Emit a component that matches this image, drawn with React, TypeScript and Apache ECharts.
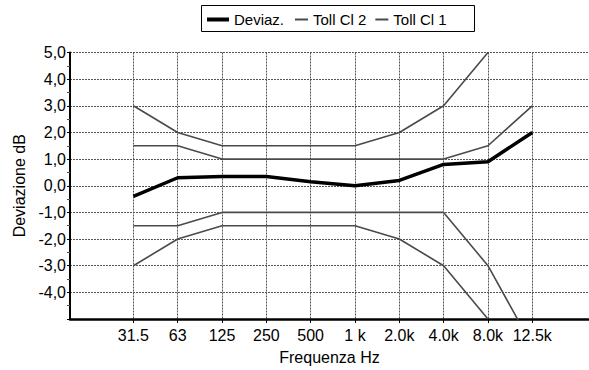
import React, { useEffect, useRef } from "react";
import * as echarts from "echarts";

const frequencies = ["31.5", "63", "125", "250", "500", "1 k", "2.0k", "4.0k", "8.0k", "12.5k"];
const deviazione = [-0.4, 0.3, 0.35, 0.35, 0.15, 0.0, 0.2, 0.8, 0.9, 2.0];
const tollCl2Upper = [3.0, 2.0, 1.5, 1.5, 1.5, 1.5, 2.0, 3.0, 5.0, null];
const tollCl2Lower = [-3.0, -2.0, -1.5, -1.5, -1.5, -1.5, -2.0, -3.0, -5.0, null];
const tollCl1Upper = [1.5, 1.5, 1.0, 1.0, 1.0, 1.0, 1.0, 1.0, 1.5, 3.0];
const tollCl1Lower = [-1.5, -1.5, -1.0, -1.0, -1.0, -1.0, -1.0, -1.0, -3.0, -6.0];
const yTicks = [5, 4, 3, 2, 1, 0, -1, -2, -3, -4];

const FONT = "Liberation Sans";

function toPairs(vals: (number | null)[]) {
  return vals.map((v, i) => [i, v]);
}

export default function App() {
  const ref = useRef<HTMLDivElement>(null);
  useEffect(() => {
    if (!ref.current) return;
    const chart = echarts.init(ref.current, null, { renderer: "svg" });
    const idx = frequencies.map((_, i) => i);
    const tolStyle = { color: "#4a4a4a", width: 1.6 };
    const legendText = { fontFamily: FONT, fontSize: 15, color: "#000" };
    chart.setOption({
      animation: false,
      backgroundColor: "#ffffff",
      textStyle: { fontFamily: FONT },
      graphic: [
        {
          type: "rect",
          shape: { x: 201.5, y: 5.5, width: 273, height: 26 },
          style: { fill: "#fff", stroke: "#000", lineWidth: 1 },
          z: -1,
        },
      ],
      legend: [
        {
          left: 207,
          top: 12,
          padding: 0,
          itemWidth: 22,
          itemHeight: 4,
          itemGap: 0,
          itemTextGap: 5,
          icon: "rect",
          textStyle: legendText,
          data: ["Deviaz."],
        },
        {
          left: 295,
          top: 12,
          padding: 0,
          itemWidth: 13,
          itemHeight: 2,
          itemGap: 9,
          itemTextGap: 6,
          icon: "rect",
          textStyle: legendText,
          data: ["Toll Cl 2", "Toll Cl 1"],
        },
      ],
      grid: { left: 70, right: 0, top: 52.5, bottom: 47.5, containLabel: false },
      xAxis: {
        type: "value",
        min: -1.43,
        max: 10.28,
        name: "Frequenza Hz",
        nameLocation: "middle",
        nameGap: 30,
        nameTextStyle: { fontFamily: FONT, fontSize: 16, color: "#000" },
        axisLine: { onZero: false, lineStyle: { color: "#000", width: 2.5 } },
        axisTick: { show: true, customValues: idx, length: 4, lineStyle: { color: "#000" } },
        axisLabel: {
          customValues: idx,
          color: "#000",
          fontSize: 16,
          fontFamily: FONT,
          margin: 8,
          formatter: (v: number) => frequencies[Math.round(v)] ?? "",
        },
        splitLine: { show: true, lineStyle: { color: "#555", width: 1, type: [2, 1] } },
      },
      yAxis: {
        type: "value",
        min: -5,
        max: 5,
        interval: 1,
        name: "Deviazione dB",
        nameLocation: "middle",
        nameGap: 43,
        nameTextStyle: { fontFamily: FONT, fontSize: 16, color: "#000" },
        axisLine: { show: true, onZero: false, lineStyle: { color: "#000", width: 2 } },
        axisTick: { show: true, length: 3, lineStyle: { color: "#000" } },
        minorTick: { show: true, splitNumber: 2, length: 3, lineStyle: { color: "#555" } },
        axisLabel: {
          color: "#000",
          fontSize: 16,
          fontFamily: FONT,
          margin: 4,
          formatter: (v: number) => (yTicks.indexOf(v) >= 0 ? v.toFixed(1).replace(".", ",") : ""),
        },
        splitLine: { show: true, lineStyle: { color: "#555", width: 1, type: [2, 1] } },
      },
      series: [
        {
          name: "Toll Cl 2",
          type: "line",
          data: toPairs(tollCl2Upper),
          symbol: "none",
          lineStyle: tolStyle,
          itemStyle: { color: "#4a4a4a" },
          z: 2,
        },
        {
          name: "Toll Cl 2",
          type: "line",
          data: toPairs(tollCl2Lower),
          symbol: "none",
          lineStyle: tolStyle,
          itemStyle: { color: "#4a4a4a" },
          z: 2,
        },
        {
          name: "Toll Cl 1",
          type: "line",
          data: toPairs(tollCl1Upper),
          symbol: "none",
          lineStyle: tolStyle,
          itemStyle: { color: "#4a4a4a" },
          z: 2,
        },
        {
          name: "Toll Cl 1",
          type: "line",
          data: toPairs(tollCl1Lower),
          symbol: "none",
          lineStyle: tolStyle,
          itemStyle: { color: "#4a4a4a" },
          z: 2,
        },
        {
          name: "Deviaz.",
          type: "line",
          data: toPairs(deviazione),
          symbol: "none",
          lineStyle: { color: "#000", width: 3.5 },
          itemStyle: { color: "#000" },
          z: 3,
        },
      ],
    });
    return () => chart.dispose();
  }, []);
  return (
    <div
      ref={ref}
      style={{ position: "fixed", left: 0, top: 0, width: 589, height: 370, background: "#fff" }}
    />
  );
}
